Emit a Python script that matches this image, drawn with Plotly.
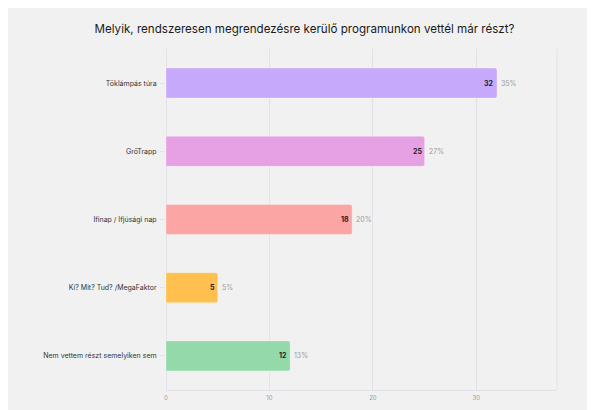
import plotly.graph_objects as go

categories = ["Töklámpás túra", "GrőTrapp", "Ifinap / Ifjúsági nap", "Ki? Mit? Tud? /MegaFaktor", "Nem vettem részt semelyiken sem"]
values = [32, 25, 18, 5, 12]
percent_labels = ["35%", "27%", "20%", "5%", "13%"]
colors = ["#C7A9FB", "#E5A1E3", "#FCA5A5", "#FFC04F", "#94D9AA"]
x_ticks = [0, 10, 20, 30]

title = "Melyik, rendszeresen megrendezésre kerülő programunkon vettél már részt?"
FONT = "Inter, Lato, sans-serif"

fig = go.Figure()
fig.add_trace(go.Bar(
    y=categories, x=values, orientation="h",
    marker=dict(color=colors, line=dict(color="rgba(255,255,255,0.5)", width=0.6)),
    width=0.44, hoverinfo="skip",
))

for c, v, p in zip(categories, values, percent_labels):
    fig.add_annotation(x=v, y=c, text="<b>%d</b>" % v, showarrow=False,
                       xanchor="right", xshift=-1, font=dict(size=7, color="#222222", family=FONT))
    fig.add_annotation(x=v, y=c, text=p, showarrow=False,
                       xanchor="left", xshift=2, font=dict(size=7, color="#9A9AA2", family=FONT))

# right border of plot area
fig.add_shape(type="line", xref="paper", yref="paper", x0=1, x1=1, y0=0, y1=1,
              line=dict(color="#E2E2E8", width=1))

fig.update_layout(
    template="none",
    width=595, height=410,
    margin=dict(l=158, r=46, t=41, b=28, autoexpand=False),
    paper_bgcolor="#F1F1F1", plot_bgcolor="#F1F1F1",
    showlegend=False, barcornerradius=2,
    title=dict(text=title, x=296.5 / 595, xanchor="center", xref="container",
               y=1 - 21 / 410, yanchor="middle", yref="container",
               font=dict(size=11.6, color="#1A1A1A", family=FONT)),
    font=dict(family=FONT),
)
fig.update_xaxes(range=[0, 37.8], tickvals=x_ticks, showgrid=True, gridcolor="#E2E2E8", gridwidth=1,
                 zeroline=True, zerolinecolor="#E2E2E8", zerolinewidth=1, automargin=False,
                 showline=True, linecolor="#E2E2E8", linewidth=1,
                 tickfont=dict(size=6, color="#9A9AA2", family=FONT), ticks="", ticklabelstandoff=2)
fig.update_yaxes(categoryorder="array", categoryarray=categories[::-1], showgrid=False,
                 automargin=False, showline=False, zeroline=False,
                 ticks="outside", ticklen=5, tickcolor="#E2E2E8",
                 tickfont=dict(size=7, color="#333333", family=FONT), ticklabelstandoff=2)

fig.write_html("out.html")
